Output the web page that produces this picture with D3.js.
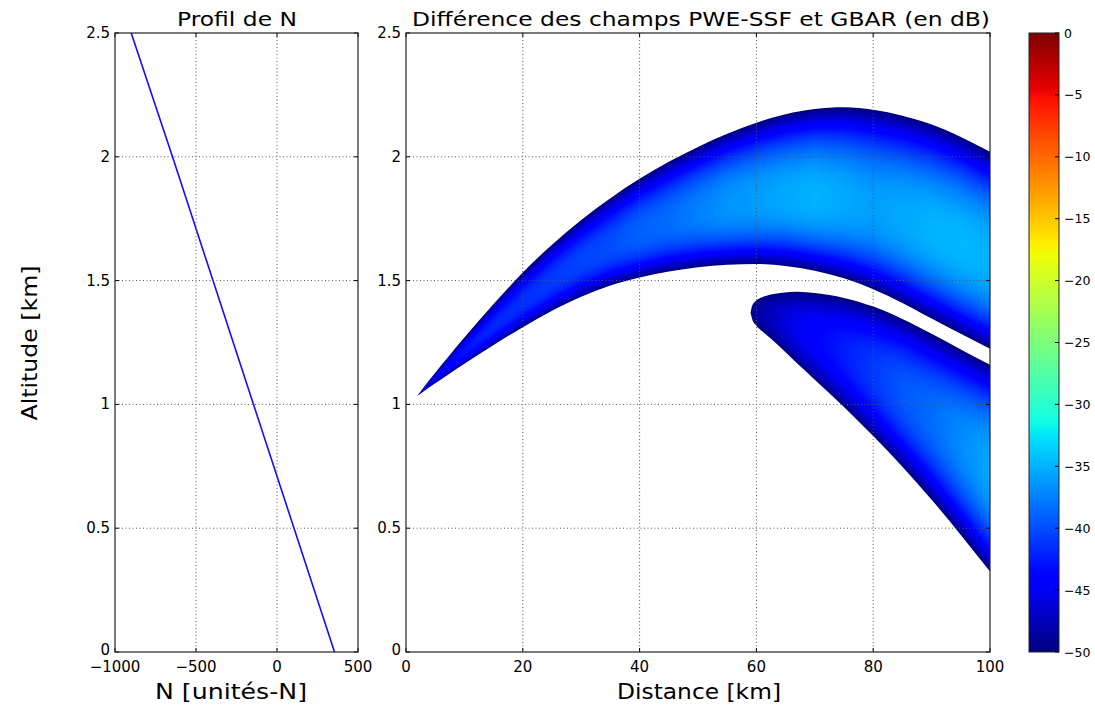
<!DOCTYPE html>
<html>
<head>
<meta charset="utf-8">
<script src="https://cdn.jsdelivr.net/npm/d3@7"></script>
<style>
body { margin: 0; background: #fff; }
text { font-family: "DejaVu Sans", sans-serif; fill: #000; }
</style>
</head>
<body>
<svg width="1095" height="709"></svg>
<script>
const svg = d3.select('svg')

// ---- data ----
// profile of N (left panel)
const altitudeKm = [0, 0.5, 1, 1.5, 2, 2.5]
const refractivityN = [355, 105, -145, -395, -645, -900]

// upper band (distance km, top / bottom altitude km, dB at band centre)
const band1Dist = [1.9, 3, 5, 7.5, 10, 15, 20, 25, 30, 35, 40, 45, 50, 55, 60, 65, 70, 75, 80, 85, 90, 95, 100]
const band1Upper = [1.034, 1.068, 1.128, 1.2, 1.27, 1.405, 1.533, 1.645, 1.745, 1.833, 1.911, 1.98, 2.04, 2.093, 2.138, 2.172, 2.193, 2.2, 2.19, 2.166, 2.13, 2.08, 2.02]
const band1Lower = [1.034, 1.052, 1.085, 1.125, 1.164, 1.24, 1.312, 1.378, 1.435, 1.48, 1.513, 1.537, 1.554, 1.564, 1.567, 1.559, 1.54, 1.509, 1.465, 1.41, 1.347, 1.285, 1.225]
const band1Peak = [-47, -46, -45, -44, -43, -42, -41.5, -41, -40.5, -40, -39, -38.5, -37.5, -36.5, -36, -35.5, -35, -35.5, -36, -35.5, -35, -34.8, -35]

// lower band
const band2Dist = [59.0, 59.3, 60, 61, 62.5, 64.5, 67, 70, 75, 80, 85, 90, 95, 100]
const band2Upper = [1.37, 1.40, 1.42, 1.433, 1.444, 1.451, 1.455, 1.45, 1.43, 1.395, 1.345, 1.285, 1.222, 1.16]
const band2Lower = [1.37, 1.343, 1.318, 1.295, 1.265, 1.222, 1.165, 1.10, 0.99, 0.872, 0.748, 0.615, 0.473, 0.325]
const band2Peak = [-49, -48.8, -48.5, -48, -47.2, -46.2, -45, -44, -42.5, -41, -39.5, -38.5, -37, -35.5]

// ticks
const nTicks = [-1000, -500, 0, 500]
const distTicks = [0, 20, 40, 60, 80, 100]
const altTicks = [0, 0.5, 1, 1.5, 2, 2.5]
const dbTicks = [0, -5, -10, -15, -20, -25, -30, -35, -40, -45, -50]

// ---- layout ----
const left = { x0: 115, x1: 358, y0: 33, y1: 652 }
const right = { x0: 406, x1: 990, y0: 33, y1: 652 }
const cbar = { x0: 1029, x1: 1059, y0: 33, y1: 652 }

const fmt = v => String(v).replace('-', '\u2212')

// jet colormap (matplotlib)
const jetR = d3.scaleLinear().domain([0, 0.35, 0.66, 0.89, 1]).range([0, 0, 1, 1, 0.5]).clamp(true)
const jetG = d3.scaleLinear().domain([0, 0.125, 0.375, 0.64, 0.91, 1]).range([0, 0, 1, 1, 0, 0]).clamp(true)
const jetB = d3.scaleLinear().domain([0, 0.11, 0.34, 0.65, 1]).range([0.5, 1, 1, 0, 0]).clamp(true)
const dbNorm = d3.scaleLinear().domain([-50, 0]).range([0, 1]).clamp(true)
const jetRGB = db => { const t = dbNorm(db); return [jetR(t), jetG(t), jetB(t)].map(v => Math.round(v * 255)) }

const drawFrame = (g, box, xScale, yScale, xTicks, yTicks) => {
	// grid
	g.append('g').selectAll('line').data(xTicks.slice(1, -1)).enter().append('line')
		.attr('x1', d => xScale(d)).attr('x2', d => xScale(d))
		.attr('y1', box.y0).attr('y2', box.y1)
		.attr('stroke', '#555').attr('stroke-width', 1).attr('stroke-dasharray', '1,2.5')
	g.append('g').selectAll('line').data(yTicks.slice(1, -1)).enter().append('line')
		.attr('y1', d => yScale(d)).attr('y2', d => yScale(d))
		.attr('x1', box.x0).attr('x2', box.x1)
		.attr('stroke', '#555').attr('stroke-width', 1).attr('stroke-dasharray', '1,2.5')
	// inward ticks on all sides
	const t = g.append('g').attr('stroke', '#000')
	xTicks.forEach(d => {
		t.append('line').attr('x1', xScale(d)).attr('x2', xScale(d)).attr('y1', box.y1).attr('y2', box.y1 - 4)
		t.append('line').attr('x1', xScale(d)).attr('x2', xScale(d)).attr('y1', box.y0).attr('y2', box.y0 + 4)
	})
	yTicks.forEach(d => {
		t.append('line').attr('y1', yScale(d)).attr('y2', yScale(d)).attr('x1', box.x0).attr('x2', box.x0 + 4)
		t.append('line').attr('y1', yScale(d)).attr('y2', yScale(d)).attr('x1', box.x1).attr('x2', box.x1 - 4)
	})
	g.append('rect').attr('x', box.x0).attr('y', box.y0)
		.attr('width', box.x1 - box.x0).attr('height', box.y1 - box.y0)
		.attr('fill', 'none').attr('stroke', '#222').attr('stroke-width', 1.2)
	// labels
	g.append('g').selectAll('text').data(xTicks).enter().append('text')
		.attr('x', d => xScale(d)).attr('y', box.y1 + 20)
		.attr('text-anchor', 'middle').style('font-size', '15px')
		.text(fmt)
	g.append('g').selectAll('text').data(yTicks).enter().append('text')
		.attr('x', box.x0 - 5).attr('y', d => yScale(d) + (d === 0 ? 3 : 5))
		.attr('text-anchor', 'end').style('font-size', '15px')
		.text(fmt)
}

/* LEFT PANEL: profile of N */
const xN = d3.scaleLinear().domain([-1000, 500]).range([left.x0, left.x1])
const yAltL = d3.scaleLinear().domain([0, 2.5]).range([left.y1, left.y0])
const gL = svg.append('g')

gL.append('path')
	.datum(altitudeKm.map((a, i) => [refractivityN[i], a]))
	.attr('d', d3.line().x(d => xN(d[0])).y(d => yAltL(d[1])))
	.attr('fill', 'none').attr('stroke', '#1010ff').attr('stroke-width', 1.6)
drawFrame(gL, left, xN, yAltL, nTicks, altTicks)

/* RIGHT PANEL: field difference */
const xD = d3.scaleLinear().domain([0, 100]).range([right.x0, right.x1])
const yAltR = d3.scaleLinear().domain([0, 2.5]).range([right.y1, right.y0])
const gR = svg.append('g')

const bands = [
	{ dist: band1Dist, upper: band1Upper, lower: band1Lower, peak: band1Peak, centre: 0.45 },
	{ dist: band2Dist, upper: band2Upper, lower: band2Lower, peak: band2Peak, centre: 0.5 },
].map(b => Object.assign(b, {
	up: d3.scaleLinear().domain(b.dist).range(b.upper),
	lo: d3.scaleLinear().domain(b.dist).range(b.lower),
	pk: d3.scaleLinear().domain(b.dist).range(b.peak),
}))

const pw = right.x1 - right.x0
const ph = right.y1 - right.y0
const canvas = document.createElement('canvas')
canvas.width = pw
canvas.height = ph
const ctx = canvas.getContext('2d')
const img = ctx.createImageData(pw, ph)
for (let i = 0; i < pw; i++) {
	const d = xD.invert(right.x0 + i + 0.5)
	bands.forEach(b => {
		if (d < b.dist[0] - 0.5 || d > b.dist[b.dist.length - 1]) return
		const dd = Math.max(d, b.dist[0])
		const u = b.up(dd), l = b.lo(dd), p = b.pk(dd)
		for (let j = 0; j < ph; j++) {
			const a = yAltR.invert(right.y0 + j + 0.5)
			if (a < l - 0.03 || a > u + 0.03) continue
			let s = u - l > 1e-6 ? (a - l) / (u - l) : 0.5
			s = Math.max(0, Math.min(1, s))
			const k = s < b.centre ? (b.centre - s) / b.centre : (s - b.centre) / (1 - b.centre)
			const f = 1 - Math.pow(k, 2.4)
			const [r, g, bl] = jetRGB(-50 + (p + 50) * f)
			const o = (j * pw + i) * 4
			img.data[o] = r; img.data[o + 1] = g; img.data[o + 2] = bl; img.data[o + 3] = 255
		}
	})
}
ctx.putImageData(img, 0, 0)

const area = d3.area().curve(d3.curveMonotoneX)
	.x(d => xD(d[0])).y0(d => yAltR(d[1])).y1(d => yAltR(d[2]))
const clip = svg.append('defs').append('clipPath').attr('id', 'bands')
bands.forEach(b => {
	clip.append('path').attr('d', area(b.dist.map((x, i) => [x, b.lower[i], b.upper[i]])))
})
gR.append('image')
	.attr('x', right.x0).attr('y', right.y0)
	.attr('width', pw).attr('height', ph)
	.attr('preserveAspectRatio', 'none')
	.attr('href', canvas.toDataURL())
	.attr('clip-path', 'url(#bands)')
drawFrame(gR, right, xD, yAltR, distTicks, altTicks)

/* COLORBAR */
const yDb = d3.scaleLinear().domain([-50, 0]).range([cbar.y1, cbar.y0])
const grad = svg.select('defs').append('linearGradient')
	.attr('id', 'jet').attr('x1', 0).attr('y1', 1).attr('x2', 0).attr('y2', 0)
grad.selectAll('stop').data(d3.range(0, 1.0001, 0.01)).enter().append('stop')
	.attr('offset', d => d)
	.attr('stop-color', d => { const c = jetRGB(dbNorm.invert(d)); return `rgb(${c})` })
svg.append('rect').attr('x', cbar.x0).attr('y', cbar.y0)
	.attr('width', cbar.x1 - cbar.x0).attr('height', cbar.y1 - cbar.y0)
	.attr('fill', 'url(#jet)').attr('stroke', '#222').attr('stroke-width', 1)
const gC = svg.append('g')
gC.selectAll('line').data(dbTicks).enter().append('line')
	.attr('x1', cbar.x1 - 4).attr('x2', cbar.x1)
	.attr('y1', d => yDb(d)).attr('y2', d => yDb(d))
	.attr('stroke', '#000')
gC.selectAll('text').data(dbTicks).enter().append('text')
	.attr('x', cbar.x1 + 5).attr('y', d => yDb(d) + 4.5)
	.style('font-size', '12.5px')
	.text(fmt)

/* TITLES AND AXIS LABELS */
const label = (x, y, txt, size, len, rot) => {
	const t = svg.append('text')
		.attr('x', x).attr('y', y)
		.attr('text-anchor', 'middle').style('font-size', size + 'px')
		.attr('textLength', len).attr('lengthAdjust', 'spacingAndGlyphs')
		.text(txt)
	if (rot) t.attr('transform', `rotate(-90,${x},${y})`)
}
label(237, 26, 'Profil de N', 20, 120)
label(701, 26, 'Différence des champs PWE-SSF et GBAR (en dB)', 20, 578)
label(231, 699, 'N [unités-N]', 21, 152)
label(699, 699, 'Distance [km]', 21, 164)
label(37, 343, 'Altitude [km]', 21, 155, true)
</script>
</body>
</html>
